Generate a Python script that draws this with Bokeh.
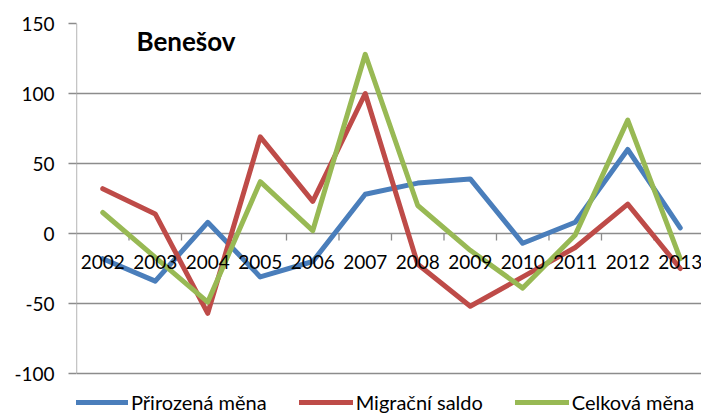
from bokeh.plotting import figure
from bokeh.models import Range1d, FixedTicker, Legend, LegendItem, Label, ColumnDataSource, CustomJSTickFormatter
from bokeh.core.properties import value
from bokeh.embed import file_html
from bokeh.resources import INLINE

years = ["2002", "2003", "2004", "2005", "2006", "2007", "2008", "2009", "2010", "2011", "2012", "2013"]
prirozena = [-18, -34, 8, -31, -20, 28, 36, 39, -7, 8, 60, 4]
migracni = [32, 14, -57, 69, 23, 100, -22, -52, -31, -10, 21, -25]
celkova = [15, -17, -49, 37, 2, 128, 20, -12, -39, -1, 81, -18]
y_ticks = [-100, -50, 0, 50, 100, 150]
series_names = ["Přirozená měna", "Migrační saldo", "Celková měna"]
colors = ["#4A7EBB", "#BE4B48", "#98B954"]

FONT = "Lato"
GRID = "#8C8C8C"
idx = list(range(len(years)))

# frame extends below -100 to hold the legend row
p = figure(frame_width=625, frame_height=392, output_backend="svg", toolbar_location=None,
           x_range=Range1d(-0.5, 11.405), y_range=Range1d(-130, 150),
           min_border_left=76, min_border_right=0, min_border_top=23, min_border_bottom=0)
p.outline_line_color = None
p.background_fill_color = "white"
p.border_fill_color = "white"

p.xaxis.visible = False
p.xgrid.visible = False
p.ygrid.ticker = FixedTicker(ticks=y_ticks)
p.ygrid.grid_line_color = GRID
p.ygrid.grid_line_width = 1.3

p.yaxis.ticker = FixedTicker(ticks=y_ticks)
p.yaxis.formatter = CustomJSTickFormatter(code="return tick.toString();")
p.yaxis.axis_line_color = None
p.yaxis.major_tick_line_color = GRID
p.yaxis.major_tick_line_width = 1.3
p.yaxis.major_tick_in = 0
p.yaxis.major_tick_out = 8
p.yaxis.minor_tick_line_color = None
p.yaxis.major_label_standoff = 14
p.yaxis.major_label_text_font = FONT
p.yaxis.major_label_text_font_size = "19px"
p.yaxis.major_label_text_color = "black"

# vertical axis line from lowest to highest tick
p.segment(x0=[-0.5], x1=[-0.5], y0=[min(y_ticks)], y1=[max(y_ticks)],
          line_color=GRID, line_width=1.3)

# category tick marks on the zero line
bounds = [i + 0.5 for i in idx[:-1]]
p.segment(x0=bounds, x1=bounds, y0=[0] * len(bounds), y1=[-5] * len(bounds),
          line_color=GRID, line_width=1.3)

renderers = []
for vals, c in zip([prirozena, migracni, celkova], colors):
    r = p.line(idx, vals, line_color=c, line_width=5, line_join="round", line_cap="round")
    renderers.append(r)

# year labels under zero line
src = ColumnDataSource(dict(x=idx, y=[0] * len(idx), t=years))
p.text(x="x", y="y", text="t", source=src, text_font=value(FONT), text_font_size="19px",
       text_align="center", text_baseline="middle", y_offset=28, text_color="black")

legend = Legend(items=[LegendItem(label=n, renderers=[r]) for n, r in zip(series_names, renderers)],
                orientation="horizontal", location=(-2, 1))
legend.border_line_color = None
legend.background_fill_alpha = 0
legend.padding = 0
legend.margin = 0
legend.spacing = 32
legend.glyph_width = 54
legend.glyph_height = 20
legend.label_height = 20
legend.label_standoff = 3
legend.label_text_font = FONT
legend.label_text_font_size = "20px"
legend.label_text_color = "black"
legend.label_text_baseline = "middle"
p.add_layout(legend, "center")

title = Label(x=60, y=375, x_units="screen", y_units="screen", text="Benešov",
              text_font=FONT, text_font_size="26px", text_font_style="bold",
              text_baseline="middle", text_color="black")
p.add_layout(title)

open("out.html", "w").write(file_html(p, INLINE))
